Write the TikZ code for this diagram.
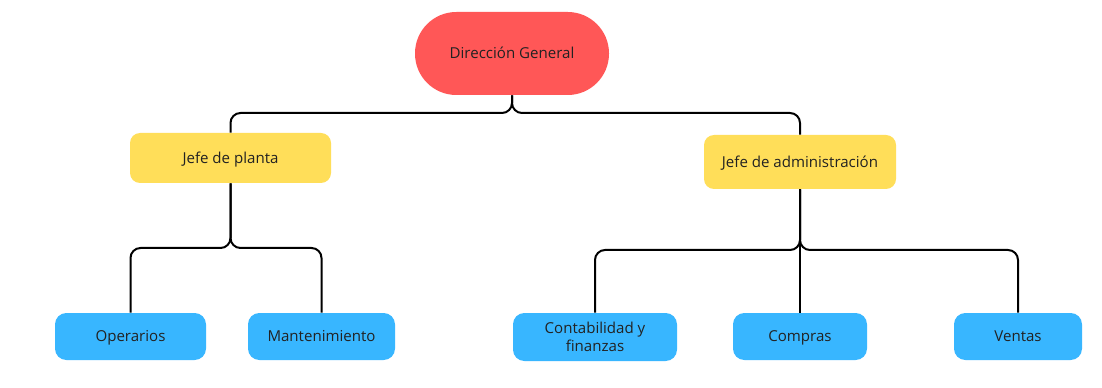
\documentclass[tikz,border=0pt]{standalone}
\usepackage{fontspec}
\setmainfont{Open Sans}
\definecolor{rootred}{HTML}{FF5757}
\definecolor{midyellow}{HTML}{FFDE59}
\definecolor{leafblue}{HTML}{38B6FF}
\definecolor{txt}{HTML}{222222}
\begin{document}
\begin{tikzpicture}[x=0.75pt,y=-0.75pt,
  box/.style={rectangle,inner sep=0pt,text=txt,align=center,font=\fontsize{11.3}{13.8}\selectfont},
  oneline/.style={text height=8pt,text depth=0pt},
  rootbox/.style={box,oneline,fill=rootred,rounded corners=31pt,minimum width=145.5pt,minimum height=62.25pt},
  midbox/.style={box,oneline,fill=midyellow,rounded corners=7.5pt},
  leafbox/.style={box,fill=leafblue,rounded corners=8.5pt,minimum height=35.25pt},
  conn/.style={draw=black,line width=1.5pt,rounded corners=7.5pt}]
\useasboundingbox (0,0) rectangle (1102,388);
\fill[white] (0,0) rectangle (1102,388);
\coordinate (j0) at (512,113);
\coordinate (j1) at (231,248);
\coordinate (j2) at (800,250);
\node[rootbox] (root) at (512,53.5) {Dirección General};
\node[midbox,minimum width=150.75pt,minimum height=37.5pt] (jp) at (230.5,158) {Jefe de planta};
\node[midbox,minimum width=144pt,minimum height=40.5pt] (ja) at (800,162) {Jefe de administración};
\node[leafbox,oneline,minimum width=113.25pt] (op) at (130.5,336.5) {Operarios};
\node[leafbox,oneline,minimum width=110.25pt] (mt) at (321.5,336.5) {Mantenimiento};
\node[leafbox,minimum width=123pt,minimum height=36pt] (cf) at (595,337) {Contabilidad y\\finanzas};
\node[leafbox,oneline,minimum width=100.5pt] (co) at (800,336.5) {Compras};
\node[leafbox,oneline,minimum width=96pt] (ve) at (1018,336.5) {Ventas};
\path[conn] (root.south) |- (jp.north |- j0) -- (jp.north);
\path[conn] (root.south) |- (ja.north |- j0) -- (ja.north);
\path[conn] (jp.south) |- (op.north |- j1) -- (op.north);
\path[conn] (jp.south) |- (mt.north |- j1) -- (mt.north);
\path[conn] (ja.south) |- (cf.north |- j2) -- (cf.north);
\path[conn] (ja.south) -- (co.north);
\path[conn] (ja.south) |- (ve.north |- j2) -- (ve.north);
\end{tikzpicture}
\end{document}
